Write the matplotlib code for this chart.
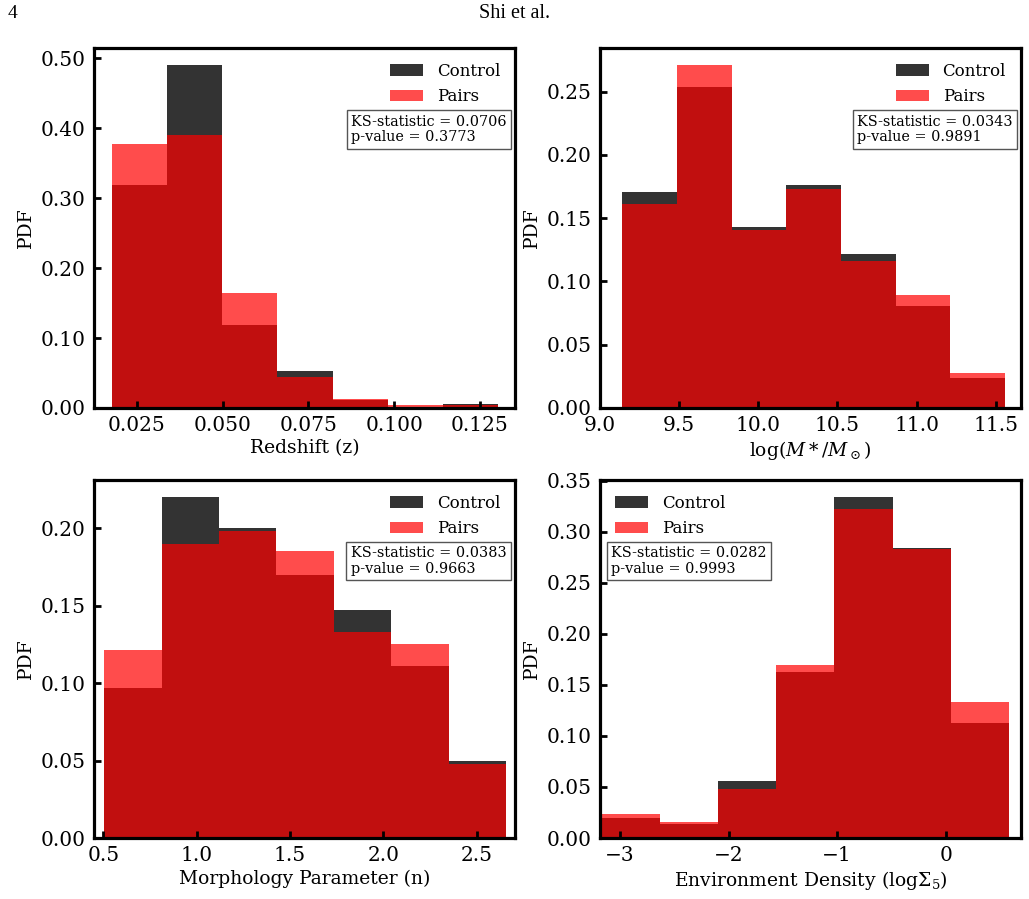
import numpy as np
import matplotlib
matplotlib.use('Agg')
import matplotlib.pyplot as plt
from matplotlib.ticker import MultipleLocator, FormatStrFormatter

plt.rcParams['font.family'] = 'DejaVu Serif'
plt.rcParams['mathtext.fontset'] = 'dejavuserif'

# bin ranges (7 equal bins each) and per-bin probabilities
z_range = (0.0177, 0.1303)
z_control = [0.318, 0.490, 0.119, 0.053, 0.012, 0.002, 0.006]
z_pairs = [0.378, 0.390, 0.165, 0.044, 0.013, 0.004, 0.004]

mass_range = (9.141, 11.558)
mass_control = [0.171, 0.254, 0.143, 0.176, 0.122, 0.081, 0.024]
mass_pairs = [0.161, 0.271, 0.141, 0.173, 0.116, 0.089, 0.028]

morph_range = (0.505, 2.657)
morph_control = [0.097, 0.220, 0.200, 0.170, 0.147, 0.111, 0.050]
morph_pairs = [0.121, 0.190, 0.198, 0.185, 0.133, 0.125, 0.048]

env_range = (-3.17, 0.585)
env_control = [0.020, 0.014, 0.056, 0.163, 0.334, 0.284, 0.113]
env_pairs = [0.024, 0.016, 0.048, 0.169, 0.322, 0.283, 0.133]

ks_stats = ['0.0706', '0.0343', '0.0383', '0.0282']
p_values = ['0.3773', '0.9891', '0.9663', '0.9993']
xlabels = ['Redshift (z)', r'log($M*/M_\odot$)',
           'Morphology Parameter (n)', r'Environment Density (log$\Sigma_5$)']

W, H = 1029, 899
fig = plt.figure(figsize=(W / 100, H / 100), dpi=100)

def px_axes(x0, y0, x1, y1):
    return fig.add_axes([x0 / W, 1 - y1 / H, (x1 - x0) / W, (y1 - y0) / H])

axes = [px_axes(94, 48, 515, 408), px_axes(600, 48, 1021, 408),
        px_axes(94, 480, 515, 838), px_axes(600, 480, 1021, 838)]

panels = [
    (z_range, z_control, z_pairs, (0.01256, 0.1352), 0.025, '%.3f', 0.10, 'right'),
    (mass_range, mass_control, mass_pairs, (9.0, 11.66), 0.5, '%.1f', 0.05, 'right'),
    (morph_range, morph_control, morph_pairs, (0.450, 2.705), 0.5, '%.1f', 0.05, 'right'),
    (env_range, env_control, env_pairs, (-3.184, 0.694), 1.0, None, 0.05, 'left'),
]

for i, (ax, p) in enumerate(zip(axes, panels)):
    rng, ctrl, pairs, xlim, xstep, xfmt, ystep, side = p
    edges = np.linspace(rng[0], rng[1], len(ctrl) + 1)
    widths = np.diff(edges)
    ax.bar(edges[:-1], ctrl, width=widths, align='edge', color='#333333',
           linewidth=0, label='Control')
    ax.bar(edges[:-1], pairs, width=widths, align='edge', color='red',
           alpha=0.7, linewidth=0, label='Pairs')
    ax.set_xlim(*xlim)
    ax.xaxis.set_major_locator(MultipleLocator(xstep))
    if xfmt:
        ax.xaxis.set_major_formatter(FormatStrFormatter(xfmt))
    ax.yaxis.set_major_locator(MultipleLocator(ystep))
    ax.yaxis.set_major_formatter(FormatStrFormatter('%.2f'))
    ax.tick_params(direction='in', length=5, width=2, labelsize=14.5, pad=6)
    for s in ax.spines.values():
        s.set_linewidth(2.3)
    ax.set_xlabel(xlabels[i], fontsize=13.5, labelpad=3)
    ax.set_ylabel('PDF', fontsize=13.5, labelpad=4)

    txt = 'KS-statistic = %s\np-value = %s' % (ks_stats[i], p_values[i])
    box = dict(boxstyle='square,pad=0.3', fc='white', ec='#555555', lw=1.0)
    if side == 'right':
        ax.legend(loc='upper right', frameon=False, fontsize=12)
        ax.text(0.98, 0.815, txt, transform=ax.transAxes, ha='right', va='top',
                multialignment='left', fontsize=10.4, linespacing=1.15, bbox=box)
    else:
        ax.legend(loc='upper left', frameon=False, fontsize=12)
        ax.text(0.026, 0.815, txt, transform=ax.transAxes, ha='left', va='top',
                multialignment='left', fontsize=10.4, linespacing=1.15, bbox=box)

fig.text(8 / W, 1 - 14 / H, '4', fontsize=14, ha='left', va='center',
         family='Liberation Serif')
fig.text(515 / W, 1 - 14 / H, 'Shi et al.', fontsize=14.5, ha='center', va='center',
         family='Liberation Serif')

fig.savefig('out.png', dpi=100)
